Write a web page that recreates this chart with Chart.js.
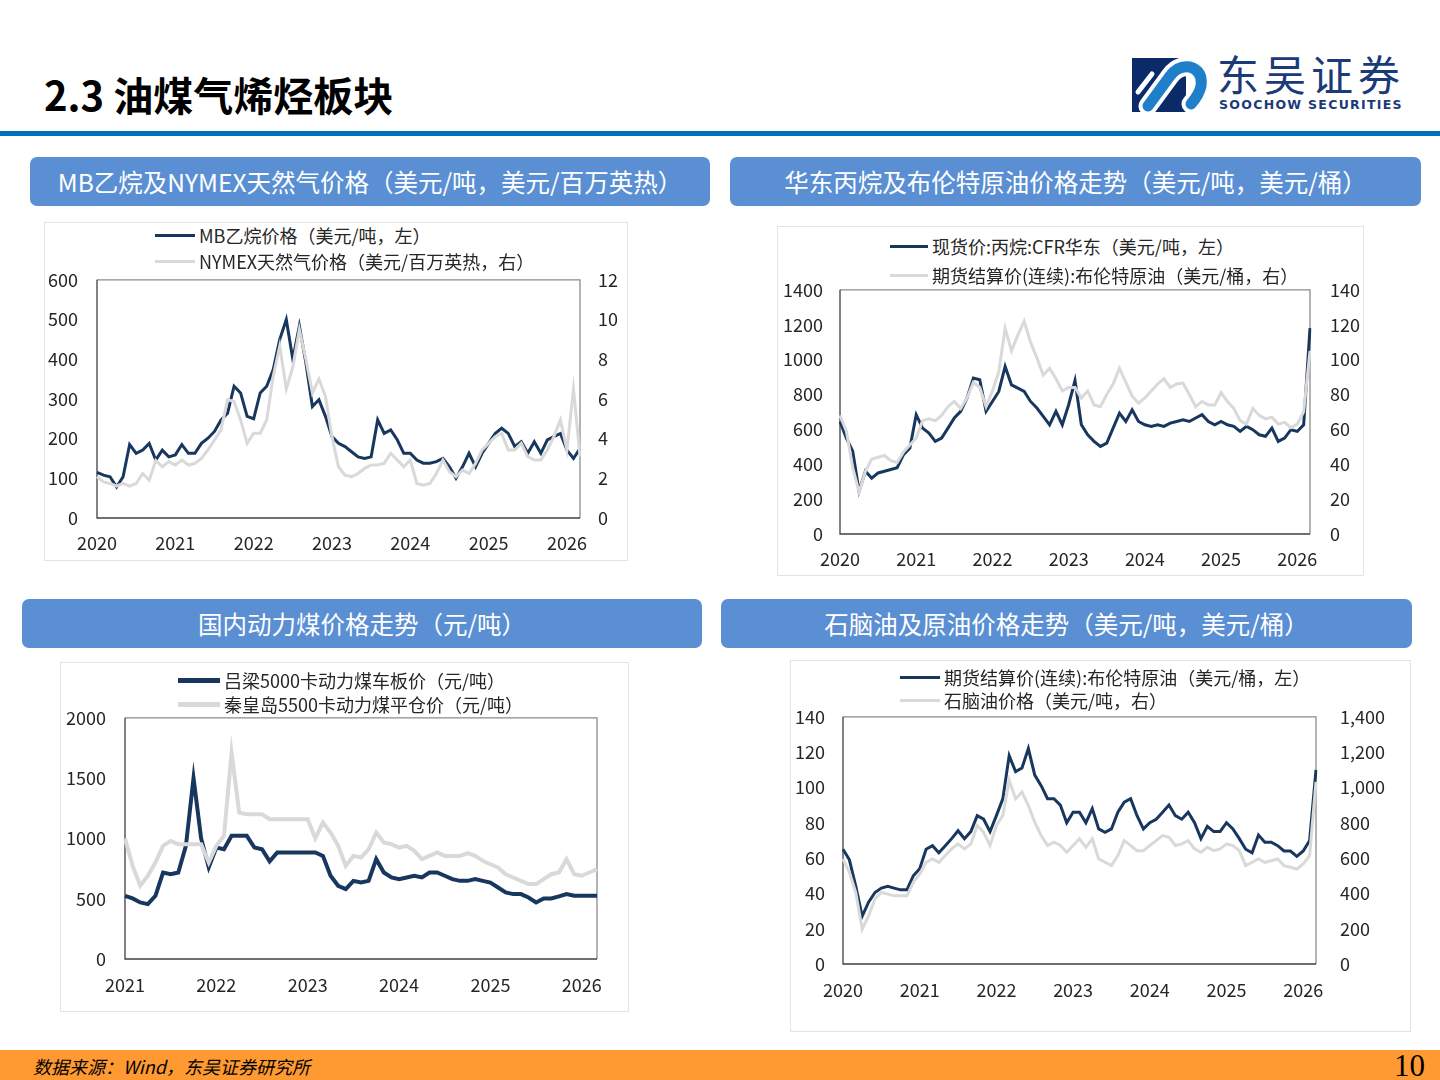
<!DOCTYPE html>
<html>
<head>
<meta charset="utf-8">
<script src="https://cdn.jsdelivr.net/npm/chart.js@4.4.1/dist/chart.umd.min.js"></script>
<style>
  body { margin: 0; background: #fff; font-family: "Microsoft YaHei", "Noto Sans CJK SC", sans-serif; }
  #page { position: relative; width: 1440px; height: 1080px; overflow: hidden; background: #fff; }
  .title { position: absolute; left: 44px; top: 74px; font-size: 40px; font-weight: 700; line-height: 40px; color: #000; }
  .rule { position: absolute; left: 0; top: 131px; width: 1440px; height: 5px; background: #0070c0; }
  .logo-cn { position: absolute; left: 1217px; top: 49px; font-size: 42px; line-height: 48px; color: #1b3a78; letter-spacing: 5px; }
  .logo-en { position: absolute; left: 1219px; top: 97px; font-family: "DejaVu Sans", sans-serif; font-size: 12.5px; font-weight: 700; line-height: 15px; color: #1b3a78; letter-spacing: 1.3px; }
  .bar { position: absolute; height: 49px; border-radius: 7px; background: #5b8fd4; color: #fff; font-size: 24.5px; line-height: 49px; text-align: center; }
  .panel { position: absolute; border: 1px solid #e4e4e4; box-sizing: border-box; }
  canvas { position: absolute; }
  .lg { position: absolute; height: 24px; line-height: 24px; font-size: 18px; color: #262626; white-space: nowrap; display: flex; align-items: center; }
  .lg i { display: inline-block; margin-right: 4px; }
  .footer { position: absolute; left: 0; top: 1050px; width: 1440px; height: 30px; background: #ff9a33; }
  .src { position: absolute; left: 33px; top: 1053px; font-size: 18px; line-height: 26px; font-style: italic; color: #000; }
  .pg { position: absolute; left: 1394px; top: 1049px; font-family: "Liberation Serif", serif; font-size: 31px; line-height: 34px; color: #000; }
</style>
</head>
<body>
<div id="page">
  <div class="title">2.3 油煤气烯烃板块</div>
  <svg style="position:absolute;left:1132px;top:58px" width="78" height="54" viewBox="0 0 78 54">
    <rect x="0" y="0" width="54" height="54" fill="#0b2a68"/>
    <path d="M16 48 L38 18 Q46 7 58 9 Q71 13 69 28 Q67 37 59 46" stroke="#ffffff" stroke-width="19" fill="none" stroke-linecap="round"/>
    <path d="M16 48 L38 18 Q46 7 58 9 Q71 13 69 28 Q67 37 59 46" stroke="#1f7fc8" stroke-width="11" fill="none" stroke-linecap="round"/>
    <path d="M6 34 L20 16" stroke="#ffffff" stroke-width="5" fill="none" stroke-linecap="round"/>
  </svg>
  <div class="logo-cn">东吴证券</div>
  <div class="logo-en">SOOCHOW SECURITIES</div>
  <div class="rule"></div>

  <div class="bar" style="left:30px;top:157px;width:680px;">MB乙烷及NYMEX天然气价格（美元/吨，美元/百万英热）</div>
  <div class="bar" style="left:730px;top:157px;width:691px;">华东丙烷及布伦特原油价格走势（美元/吨，美元/桶）</div>
  <div class="bar" style="left:22px;top:599px;width:680px;">国内动力煤价格走势（元/吨）</div>
  <div class="bar" style="left:721px;top:599px;width:691px;">石脑油及原油价格走势（美元/吨，美元/桶）</div>

  <div class="panel" style="left:44px;top:222px;width:584px;height:339px;"></div>
  <div class="panel" style="left:777px;top:226px;width:587px;height:350px;"></div>
  <div class="panel" style="left:60px;top:662px;width:569px;height:350px;"></div>
  <div class="panel" style="left:790px;top:660px;width:621px;height:372px;"></div>

  <canvas id="c1" width="590" height="310" style="left:40px;top:250px;"></canvas>
  <canvas id="c2" width="588" height="316" style="left:777px;top:259px;"></canvas>
  <canvas id="c3" width="568" height="323" style="left:60px;top:688px;"></canvas>
  <canvas id="c4" width="620" height="348" style="left:790px;top:682px;"></canvas>

  <div class="lg" style="left:155px;top:223px;"><i style="width:40px;height:3px;background:#17375e"></i>MB乙烷价格（美元/吨，左）</div>
  <div class="lg" style="left:155px;top:249px;"><i style="width:40px;height:3px;background:#d9d9d9"></i>NYMEX天然气价格（美元/百万英热，右）</div>
  <div class="lg" style="left:890px;top:234px;"><i style="width:38px;height:3px;background:#17375e"></i>现货价:丙烷:CFR华东（美元/吨，左）</div>
  <div class="lg" style="left:890px;top:263px;"><i style="width:38px;height:3px;background:#d9d9d9"></i>期货结算价(连续):布伦特原油（美元/桶，右）</div>
  <div class="lg" style="left:178px;top:668px;"><i style="width:42px;height:5px;background:#17375e"></i>吕梁5000卡动力煤车板价（元/吨）</div>
  <div class="lg" style="left:178px;top:692px;"><i style="width:42px;height:5px;background:#d9d9d9"></i>秦皇岛5500卡动力煤平仓价（元/吨）</div>
  <div class="lg" style="left:900px;top:665px;"><i style="width:40px;height:3px;background:#17375e"></i>期货结算价(连续):布伦特原油（美元/桶，左）</div>
  <div class="lg" style="left:900px;top:688px;"><i style="width:40px;height:3px;background:#d9d9d9"></i>石脑油价格（美元/吨，右）</div>

  <div class="footer"></div>
  <div class="src">数据来源：Wind，东吴证券研究所</div>
  <div class="pg">10</div>
</div>

<script>
const NAVY = "#17375e";
const GRAY = "#d9d9d9";

function monthRange(y0, m0, y1, m1) {
  const out = [];
  for (let y = y0, m = m0; y < y1 || (y === y1 && m <= m1); m++) {
    if (m > 12) { m = 1; y++; if (y > y1) break; }
    out.push(y + "-" + String(m).padStart(2, "0"));
  }
  return out;
}

const months2020 = monthRange(2020, 1, 2026, 3);
const months2021 = monthRange(2021, 1, 2026, 3);

// MB乙烷 (美元/吨), NYMEX天然气 (美元/百万英热)
const mbEthane = [
  115, 108, 104, 78, 104, 185, 163, 171, 188, 146, 171, 154,
  159, 185, 163, 163, 188, 201, 218, 247, 264, 332, 315, 256,
  250, 315, 332, 374, 450, 500, 400, 484, 391, 281, 298, 256,
  205, 188, 180, 167, 154, 150, 154, 247, 213, 222, 197, 163,
  163, 146, 138, 138, 142, 150, 129, 100, 129, 163, 129, 163,
  188, 213, 226, 213, 180, 192, 163, 192, 163, 197, 205, 213,
  171, 150, 175
];
const nymexGas = [
  2.08, 1.82, 1.74, 1.6, 1.74, 1.6, 1.74, 2.24, 1.9, 2.9, 2.58, 2.84,
  2.67, 2.92, 2.67, 2.75, 3.0, 3.43, 3.93, 4.44, 5.96, 5.87, 4.94, 3.76,
  4.27, 4.27, 4.94, 7.14, 8.66, 6.5, 7.6, 9.5, 8.0, 6.3, 7.0, 6.13,
  4.1, 2.58, 2.16, 2.08, 2.24, 2.5, 2.67, 2.67, 2.75, 3.26, 2.92, 2.58,
  2.92, 1.74, 1.65, 1.74, 2.24, 2.92, 2.33, 2.08, 2.41, 2.24, 2.75, 3.43,
  3.76, 4.1, 4.27, 3.43, 3.43, 3.76, 3.09, 2.92, 2.92, 3.43, 4.1, 4.94,
  3.43, 6.5, 3.1
];

// 丙烷CFR华东 (美元/吨), 布伦特 (美元/桶)
const propaneCfr = [
  645, 550, 475, 245, 360, 320, 350, 360, 370, 380, 455, 493,
  684, 607, 579, 531, 550, 607, 665, 703, 780, 894, 884, 703,
  760, 817, 960, 855, 836, 817, 760, 722, 674, 626, 703, 626,
  741, 880, 626, 569, 531, 502, 521, 607, 693, 645, 712, 645,
  626, 617, 626, 617, 636, 645, 655, 645, 665, 684, 645, 626,
  645, 626, 617, 588, 617, 598, 569, 560, 607, 531, 550, 598,
  588, 626, 1180
];
const brentTop = [
  68, 59, 38, 24, 36, 43, 44, 45, 42, 41, 47, 51,
  55, 65, 66, 65, 68, 73, 76, 72, 78, 87, 84, 73,
  82, 93, 118, 105, 114, 122, 110, 101, 91, 95, 89, 82,
  84, 84, 78, 82, 74, 73, 80, 86, 95, 87, 79, 75,
  78, 82, 86, 89, 84, 86, 86.5, 80, 73, 76, 74, 74,
  81, 76, 72, 65, 63, 72, 68, 66, 67, 63, 64, 61,
  63, 70, 105
];

// 动力煤 (元/吨)
const lvliang5000 = [
  524, 502, 469, 455, 524, 717, 703, 717, 938, 1500, 1000, 760,
  924, 910, 1021, 1021, 1021, 924, 910, 810, 883, 883, 883, 883,
  883, 883, 855, 690, 607, 579, 648, 634, 648, 828, 717, 676,
  662, 676, 690, 676, 717, 717, 690, 662, 648, 648, 662, 648,
  634, 593, 552, 538, 538, 510, 469, 502, 502, 519, 538, 524,
  524, 524, 524
];
const qhd5500 = [
  1000, 772, 607, 690, 800, 938, 979, 952, 952, 952, 952, 800,
  938, 1021, 1710, 1214, 1200, 1200, 1200, 1159, 1159, 1159, 1159, 1159,
  1159, 1000, 1131, 1048, 938, 772, 855, 841, 910, 1048, 966, 952,
  924, 938, 897, 828, 855, 883, 855, 855, 855, 877, 855, 814,
  786, 759, 703, 676, 648, 621, 621, 662, 703, 717, 828, 703,
  690, 717, 745
];

// 布伦特 (美元/桶), 石脑油 (美元/吨)
const brentBottom = [
  65, 59, 44, 27, 35, 40.5, 43, 44, 43, 42, 42, 50,
  54, 65, 67, 63, 67, 71, 75.5, 71, 75, 84, 82, 75,
  84, 93.5, 118, 109, 111, 122, 107, 101, 93.6, 93.6, 90, 80,
  86, 86, 80, 88, 76.5, 74.6, 76.5, 86, 91.7, 93.6, 84, 76.5,
  80, 82, 86, 90, 84, 82, 86, 80, 71, 78, 75, 75,
  80, 76.5, 71, 65, 63, 73, 69, 69, 67, 64, 64, 61,
  64, 70, 110
];
const naphtha = [
  595, 519, 405, 197, 273, 368, 405, 396, 386, 386, 386, 462,
  510, 576, 595, 576, 614, 652, 680, 652, 680, 784, 746, 671,
  784, 841, 1040, 936, 974, 898, 803, 727, 671, 690, 671, 633,
  671, 709, 661, 709, 595, 576, 557, 614, 699, 671, 642, 642,
  671, 699, 727, 718, 671, 680, 699, 652, 633, 661, 642, 652,
  680, 671, 642, 557, 576, 595, 576, 585, 595, 557, 548, 538,
  566, 614, 1031
];

const TICK_FONT = { family: "'Microsoft YaHei','Noto Sans CJK SC',sans-serif", size: 18 };
const TICK_COLOR = "#262626";

Chart.defaults.animation = false;

const framePlugin = {
  id: "frame",
  beforeDatasetsDraw(chart) {
    const { ctx, chartArea: { left, right, top, bottom } } = chart;
    ctx.save();
    ctx.lineWidth = 1.3;
    ctx.strokeStyle = "#8c8c8c";
    ctx.beginPath();
    ctx.moveTo(left, top); ctx.lineTo(right, top); ctx.lineTo(right, bottom);
    ctx.stroke();
    ctx.strokeStyle = "#404040";
    ctx.beginPath();
    ctx.moveTo(left, top); ctx.lineTo(left, bottom); ctx.lineTo(right, bottom);
    ctx.stroke();
    ctx.restore();
  },
};

function yearTick(labels) {
  return (value, index) => {
    const lab = labels[index];
    return lab.endsWith("-01") ? lab.slice(0, 4) : null;
  };
}

function valueAxis(position, max, step, width, pad, fmt) {
  return {
    position,
    min: 0,
    max,
    grid: { display: false, drawTicks: false },
    border: { display: false },
    afterFit: (s) => { s.width = width; },
    ticks: {
      stepSize: step,
      padding: pad,
      font: TICK_FONT,
      color: TICK_COLOR,
      callback: fmt || ((v) => v),
    },
  };
}

function makeChart(id, opts) {
  const scales = {
    x: {
      grid: { display: false, drawTicks: false },
      border: { display: false },
      afterFit: (s) => { s.height = opts.xHeight; },
      ticks: {
        autoSkip: false,
        maxRotation: 0,
        minRotation: 0,
        padding: opts.xPad,
        font: TICK_FONT,
        color: TICK_COLOR,
        callback: yearTick(opts.labels),
      },
    },
    y: valueAxis("left", opts.leftMax, opts.leftStep, opts.leftWidth, opts.leftPad),
  };
  if (opts.rightMax) {
    scales.y2 = valueAxis("right", opts.rightMax, opts.rightStep, opts.rightWidth, opts.rightPad, opts.rightFmt);
  }

  return new Chart(document.getElementById(id), {
    type: "line",
    data: {
      labels: opts.labels,
      datasets: [
        {
          label: opts.names[0],
          data: opts.first,
          yAxisID: "y",
          borderColor: NAVY,
          borderWidth: opts.lineWidth,
          pointRadius: 0,
          tension: 0,
          order: 1,
        },
        {
          label: opts.names[1],
          data: opts.second,
          yAxisID: opts.rightMax ? "y2" : "y",
          borderColor: GRAY,
          borderWidth: opts.lineWidth,
          pointRadius: 0,
          tension: 0,
          order: 0,
        },
      ],
    },
    options: {
      responsive: false,
      devicePixelRatio: 1,
      layout: { padding: { top: opts.padTop, right: opts.padRight || 0, left: 0, bottom: 0 } },
      plugins: { legend: { display: false }, tooltip: { enabled: false } },
      scales,
    },
    plugins: [framePlugin],
  });
}

makeChart("c1", {
  labels: months2020,
  names: ["MB乙烷价格（美元/吨，左）", "NYMEX天然气价格（美元/百万英热，右）"],
  first: mbEthane,
  second: nymexGas,
  lineWidth: 3,
  leftMax: 600, leftStep: 100, leftWidth: 57, leftPad: 19,
  rightMax: 12, rightStep: 2, rightWidth: 50, rightPad: 18,
  padTop: 10, xHeight: 42, xPad: 14,
});

makeChart("c2", {
  labels: months2020,
  names: ["现货价:丙烷:CFR华东（美元/吨，左）", "期货结算价(连续):布伦特原油（美元/桶，右）"],
  first: propaneCfr,
  second: brentTop,
  lineWidth: 3,
  leftMax: 1400, leftStep: 200, leftWidth: 63, leftPad: 17,
  rightMax: 140, rightStep: 20, rightWidth: 55, rightPad: 20,
  padTop: 8, xHeight: 41, xPad: 14,
});

makeChart("c3", {
  labels: months2021,
  names: ["吕梁5000卡动力煤车板价（元/吨）", "秦皇岛5500卡动力煤平仓价（元/吨）"],
  first: lvliang5000,
  second: qhd5500,
  lineWidth: 4,
  leftMax: 2000, leftStep: 500, leftWidth: 65, leftPad: 19,
  padTop: 8, padRight: 31, xHeight: 52, xPad: 15,
});

makeChart("c4", {
  labels: months2020,
  names: ["期货结算价(连续):布伦特原油（美元/桶，左）", "石脑油价格（美元/吨，右）"],
  first: brentBottom,
  second: naphtha,
  lineWidth: 3,
  leftMax: 140, leftStep: 20, leftWidth: 53, leftPad: 18,
  rightMax: 1400, rightStep: 200, rightWidth: 94, rightPad: 24,
  rightFmt: (v) => v.toLocaleString("en-US"),
  padTop: 9, xHeight: 66, xPad: 15,
});
</script>
</body>
</html>
